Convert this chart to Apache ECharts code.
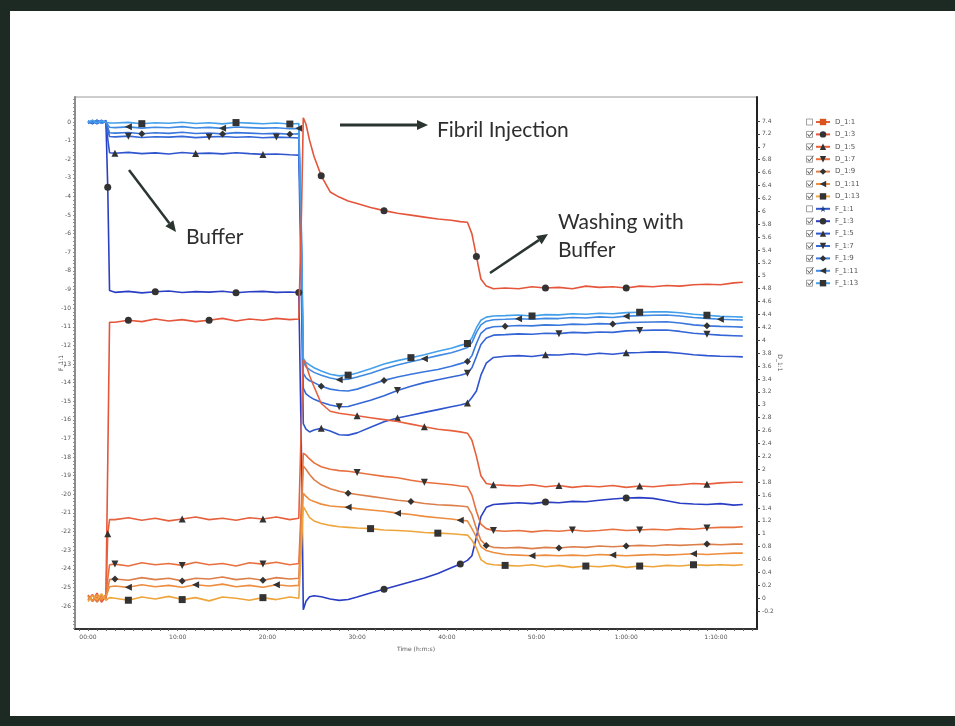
<!DOCTYPE html>
<html>
<head>
<meta charset="utf-8">
<script src="https://cdn.jsdelivr.net/npm/echarts@6/dist/echarts.min.js"></script>
<style>
  html, body { margin: 0; padding: 0; background: #fff; }
  #chart { width: 955px; height: 726px; }
</style>
</head>
<body>
<div id="chart"></div>
<script>
// Sample times in minutes
const minutes = [
  0, 0.5, 1, 1.5, 2.0,
  2.2, 2.4,
  3, 4.5, 6, 7.5, 9, 10.5, 12, 13.5, 15, 16.5, 18, 19.5, 21, 22.5, 23.5,
  23.8, 24.0, 24.3, 24.7, 25.2, 26, 27, 28, 29, 30, 31.5, 33, 34.5, 36, 37.5, 39, 40.5, 41.5, 42.3,
  42.8, 43.3, 43.8, 44.4, 45.2,
  46.5, 48, 49.5, 51, 52.5, 54, 55.5, 57, 58.5, 60, 61.5, 63, 64.5, 66, 67.5, 69, 70.5, 72, 73
];

// Frequency shifts (left axis)
const f3 = [
  0.05, -0.08, 0.1, -0.05, 0.02,
  -3.5, -9.05,
  -9.15, -9.10, -9.18, -9.12, -9.08, -9.16, -9.11, -9.14, -9.09, -9.17, -9.12, -9.10, -9.15, -9.13, -9.16,
  -18, -26.2, -25.75, -25.5, -25.45, -25.5, -25.62, -25.7, -25.65, -25.52, -25.3, -25.1, -24.9, -24.7, -24.5, -24.25, -23.95, -23.75, -23.55,
  -23.3, -22.3, -21.2, -20.7, -20.55,
  -20.5, -20.45, -20.5, -20.42, -20.45, -20.38, -20.4, -20.32, -20.25, -20.2, -20.18, -20.22, -20.35, -20.48, -20.52, -20.55, -20.5, -20.58, -20.55
];
const f5 = [
  -0.05, 0.08, -0.1, 0.04, -0.03,
  -0.9, -1.65,
  -1.68, -1.63, -1.70, -1.66, -1.72, -1.64, -1.69, -1.67, -1.71, -1.65, -1.70, -1.74, -1.72, -1.76, -1.78,
  -9.5, -16.2, -16.5, -16.65, -16.55, -16.45, -16.6, -16.8, -16.82, -16.7, -16.4, -16.1, -15.9, -15.75, -15.6, -15.45, -15.3, -15.2, -15.1,
  -14.8, -14.45, -13.6, -12.95, -12.65,
  -12.58, -12.55, -12.6, -12.5, -12.52, -12.45, -12.5, -12.42, -12.48, -12.4, -12.38, -12.35, -12.36, -12.42, -12.5, -12.55, -12.58, -12.6, -12.62
];
const f7 = [
  0.02, -0.1, 0.06, -0.04, 0.08,
  -0.4, -0.78,
  -0.80, -0.76, -0.83, -0.79, -0.81, -0.77, -0.84, -0.80, -0.78, -0.82, -0.79, -0.85, -0.81, -0.83, -0.86,
  -7.0, -14.3, -14.6, -14.75, -14.9, -15.05, -15.2, -15.3, -15.28, -15.15, -14.95, -14.7, -14.42, -14.2, -14.0, -13.85, -13.7, -13.6, -13.5,
  -13.2, -12.6, -11.95, -11.6, -11.45,
  -11.42, -11.38, -11.4, -11.35, -11.37, -11.3, -11.33, -11.28, -11.3, -11.22, -11.2, -11.18, -11.17, -11.25, -11.35, -11.4, -11.45, -11.48, -11.5
];
const f9 = [
  -0.08, 0.05, -0.02, 0.1, -0.06,
  -0.3, -0.58,
  -0.60, -0.56, -0.63, -0.58, -0.61, -0.55, -0.62, -0.59, -0.64, -0.57, -0.60, -0.63, -0.61, -0.66, -0.63,
  -7.5, -13.5, -13.75, -13.9, -14.0, -14.2, -14.35, -14.42, -14.45, -14.35, -14.12, -13.88, -13.7, -13.55, -13.42, -13.3, -13.12, -12.98, -12.86,
  -12.55, -11.9, -11.35, -11.1, -11.0,
  -10.97, -10.93, -10.95, -10.9, -10.92, -10.86, -10.88, -10.83, -10.85, -10.78, -10.76, -10.74, -10.73, -10.8, -10.9, -10.95, -10.98, -11.0, -11.02
];
const f11 = [
  0.06, -0.04, 0.09, -0.07, 0.03,
  -0.15, -0.28,
  -0.30, -0.26, -0.33, -0.28, -0.31, -0.25, -0.32, -0.29, -0.34, -0.27, -0.30, -0.33, -0.31, -0.36, -0.34,
  -6.5, -12.9, -13.15, -13.3, -13.45, -13.6, -13.75, -13.85, -13.82, -13.7, -13.5, -13.25, -13.05, -12.88, -12.72, -12.55, -12.4, -12.25, -12.12,
  -11.85, -11.3, -10.9, -10.7, -10.62,
  -10.6, -10.57, -10.6, -10.55, -10.56, -10.5, -10.53, -10.47, -10.5, -10.43, -10.4, -10.38, -10.37, -10.42, -10.5, -10.55, -10.6, -10.62, -10.64
];
const f13 = [
  -0.03, 0.1, -0.06, 0.05, -0.01,
  0.0, -0.05,
  -0.05, -0.02, -0.09, -0.04, -0.07, -0.01, -0.08, -0.04, -0.1, -0.03, -0.06, -0.09, -0.05, -0.11, -0.08,
  -6.0, -12.7, -12.92, -13.05, -13.2, -13.38, -13.55, -13.64, -13.6, -13.48, -13.25, -13.0, -12.82, -12.66, -12.5, -12.32, -12.15, -12.0, -11.9,
  -11.6, -11.05, -10.65, -10.48, -10.42,
  -10.4, -10.37, -10.42, -10.35, -10.36, -10.3, -10.33, -10.27, -10.3, -10.24, -10.22, -10.2, -10.2, -10.25, -10.33, -10.38, -10.44, -10.46, -10.48
];

// Dissipation shifts (right axis)
const d3 = [
  0.05, -0.04, 0.08, -0.06, 0.03,
  2.1, 4.28,
  4.28, 4.31, 4.29, 4.33, 4.30, 4.32, 4.29, 4.31, 4.34, 4.30, 4.33, 4.31, 4.34, 4.32, 4.33,
  6.0, 7.45, 7.35, 7.1, 6.85, 6.55, 6.3, 6.22, 6.16, 6.12, 6.06, 6.01, 5.97, 5.94, 5.91, 5.88, 5.86, 5.84, 5.83,
  5.65, 5.3, 4.95, 4.84, 4.8,
  4.81, 4.8, 4.83, 4.81, 4.82, 4.80, 4.84, 4.82, 4.83, 4.81, 4.84, 4.83, 4.85, 4.84, 4.86, 4.87, 4.86, 4.89, 4.9
];
const d5 = [
  -0.03, 0.06, -0.05, 0.04, -0.02,
  1.0, 1.22,
  1.22, 1.25, 1.21, 1.24, 1.20, 1.23, 1.26, 1.22, 1.24, 1.21, 1.25, 1.23, 1.26, 1.22, 1.24,
  2.8, 3.7, 3.62, 3.45, 3.28, 3.02, 2.9, 2.87, 2.85, 2.83, 2.8, 2.77, 2.74, 2.7, 2.66, 2.62, 2.6, 2.58, 2.56,
  2.45, 2.2, 1.9, 1.78, 1.76,
  1.75, 1.74, 1.76, 1.73, 1.75, 1.72, 1.74, 1.73, 1.75, 1.72, 1.74, 1.73, 1.75, 1.76, 1.78, 1.77, 1.79, 1.8, 1.8
];
const d7 = [
  0.04, -0.05, 0.02, -0.03, 0.06,
  0.3, 0.52,
  0.53, 0.50, 0.55, 0.52, 0.54, 0.51, 0.56, 0.52, 0.54, 0.50, 0.55, 0.53, 0.56, 0.52, 0.54,
  1.5, 2.25, 2.22, 2.16, 2.1, 2.04, 2.0, 1.98, 1.97, 1.95, 1.92, 1.89, 1.87, 1.83, 1.8, 1.78, 1.76, 1.74, 1.73,
  1.6, 1.35, 1.15, 1.08, 1.05,
  1.04, 1.05, 1.03, 1.05, 1.04, 1.06, 1.04, 1.05, 1.07, 1.05, 1.06, 1.07, 1.06, 1.08, 1.07, 1.09, 1.1, 1.1, 1.11
];
const d9 = [
  -0.02, 0.05, -0.06, 0.03, -0.01,
  0.15, 0.29,
  0.30, 0.28, 0.32, 0.29, 0.31, 0.27, 0.31, 0.30, 0.33, 0.29, 0.31, 0.28, 0.32, 0.30, 0.31,
  1.3, 2.05, 2.0, 1.92, 1.84, 1.76, 1.7, 1.66, 1.63, 1.61, 1.58, 1.55, 1.52, 1.5, 1.47, 1.45, 1.44, 1.43, 1.42,
  1.3, 1.08, 0.9, 0.82, 0.79,
  0.78, 0.79, 0.77, 0.79, 0.78, 0.80, 0.79, 0.81, 0.80, 0.81, 0.82, 0.81, 0.83, 0.82, 0.83, 0.84, 0.83, 0.84, 0.84
];
const d11 = [
  0.03, -0.04, 0.06, -0.02, 0.04,
  0.1, 0.18,
  0.19, 0.17, 0.21, 0.18, 0.20, 0.17, 0.21, 0.19, 0.22, 0.18, 0.20, 0.17, 0.21, 0.19, 0.20,
  1.0, 1.63, 1.58, 1.53, 1.5, 1.46, 1.43, 1.42, 1.41, 1.39, 1.37, 1.35, 1.32, 1.3, 1.27, 1.25, 1.23, 1.21, 1.2,
  1.08, 0.95, 0.8, 0.74, 0.71,
  0.68, 0.67, 0.66, 0.67, 0.66, 0.67, 0.66, 0.68, 0.67, 0.66, 0.67, 0.68, 0.67, 0.68, 0.69, 0.68, 0.69, 0.70, 0.70
];
const d13 = [
  -0.05, 0.04, -0.02, 0.07, -0.03,
  0.0, 0.01,
  0.0, -0.03, 0.02, -0.01, 0.03, -0.02, 0.01, -0.04, 0.02, 0.0, -0.03, 0.01, -0.02, 0.02, 0.0,
  0.8, 1.42, 1.35, 1.25, 1.2, 1.16, 1.13, 1.11, 1.1, 1.09, 1.08, 1.06, 1.05, 1.04, 1.02, 1.01, 1.0, 0.99, 0.98,
  0.9, 0.78, 0.6, 0.54, 0.52,
  0.51, 0.5, 0.52, 0.49, 0.51, 0.48, 0.5, 0.49, 0.51, 0.48, 0.5, 0.49, 0.51, 0.5, 0.52, 0.51, 0.52, 0.51, 0.52
];

// Axis tick labels
const fTicks = [0, -1, -2, -3, -4, -5, -6, -7, -8, -9, -10, -11, -12, -13, -14, -15, -16, -17, -18, -19, -20, -21, -22, -23, -24, -25, -26];
const dTicks = [7.4, 7.2, 7, 6.8, 6.6, 6.4, 6.2, 6, 5.8, 5.6, 5.4, 5.2, 5, 4.8, 4.6, 4.4, 4.2, 4, 3.8, 3.6, 3.4, 3.2, 3, 2.8, 2.6, 2.4, 2.2, 2, 1.8, 1.6, 1.4, 1.2, 1, 0.8, 0.6, 0.4, 0.2, 0, -0.2];
const timeTicks = [0, 10, 20, 30, 40, 50, 60, 70];
const timeLabels = ['00:00', '10:00', '20:00', '30:00', '40:00', '50:00', '1:00:00', '1:10:00'];

const STAR = 'path://M50,0 L61,35 L98,35 L68,57 L79,91 L50,70 L21,91 L32,57 L2,35 L39,35 Z';

// Series appearance (legend order)
const traces = [
  { name: 'D_1:1',  values: null, axis: 1, color: '#e2613a', mark: '#d9531e', symbol: 'rect', rot: 0, at: [] },
  { name: 'D_1:3',  values: d3,  axis: 1, color: '#e4553a', symbol: 'circle',   rot: 0,   at: [8, 14, 27, 33, 42, 49, 55] },
  { name: 'D_1:5',  values: d5,  axis: 1, color: '#e6603c', symbol: 'triangle', rot: 0,   at: [5, 12, 18, 31, 36, 45, 50, 56, 61] },
  { name: 'D_1:7',  values: d7,  axis: 1, color: '#e8703f', symbol: 'triangle', rot: 180, at: [7, 12, 18, 31, 36, 45, 51, 56, 61] },
  { name: 'D_1:9',  values: d9,  axis: 1, color: '#dc7f4a', symbol: 'diamond',  rot: 0,   at: [7, 12, 18, 30, 35, 44, 50, 55, 61] },
  { name: 'D_1:11', values: d11, axis: 1, color: '#ec8d40', symbol: 'triangle', rot: 90,  at: [8, 13, 19, 30, 34, 39, 48, 54, 60] },
  { name: 'D_1:13', values: d13, axis: 1, color: '#eea53c', symbol: 'rect',     rot: 0,   at: [8, 12, 18, 32, 37, 46, 52, 56, 60] },
  { name: 'F_1:1',  values: null, axis: 0, color: '#2e58c8', mark: '#1e3c8c', symbol: STAR, rot: 0, at: [] },
  { name: 'F_1:3',  values: f3,  axis: 0, color: '#2a3ec4', symbol: 'circle',   rot: 0,   at: [5, 10, 16, 21, 33, 39, 49, 55] },
  { name: 'F_1:5',  values: f5,  axis: 0, color: '#2f55cf', symbol: 'triangle', rot: 0,   at: [7, 13, 18, 27, 34, 40, 49, 55] },
  { name: 'F_1:7',  values: f7,  axis: 0, color: '#3466d6', symbol: 'triangle', rot: 180, at: [8, 14, 19, 29, 34, 40, 50, 56, 61] },
  { name: 'F_1:9',  values: f9,  axis: 0, color: '#3a77dc', symbol: 'diamond',  rot: 0,   at: [9, 15, 20, 27, 33, 40, 46, 54, 61] },
  { name: 'F_1:11', values: f11, axis: 0, color: '#3f8ae2', symbol: 'triangle', rot: 90,  at: [8, 15, 21, 29, 36, 47, 55, 62] },
  { name: 'F_1:13', values: f13, axis: 0, color: '#44a0ea', symbol: 'rect',     rot: 0,   at: [9, 16, 20, 30, 35, 40, 48, 56, 61] }
];

// Minor tick positions along the axes
const fMinor = [];
for (let k = -136; k <= 6; k++) fMinor.push(Math.round(k * 2) / 10);
const xMinor = [];
for (let m = -1; m <= 74; m++) xMinor.push(m);

const series = traces.map(tr => ({
  name: tr.name,
  type: 'line',
  yAxisIndex: tr.axis,
  data: tr.values ? minutes.map((t, i) => [t, tr.values[i]]) : [],
  symbol: tr.symbol,
  symbolRotate: tr.rot,
  showSymbol: true,
  showAllSymbol: true,
  symbolSize: (v, p) => tr.at.indexOf(p.dataIndex) >= 0 ? 7 : 0,
  lineStyle: { color: tr.color, width: 1.6 },
  itemStyle: { color: tr.mark || '#333', borderWidth: 0 },
  emphasis: { disabled: true },
  animation: false,
  z: tr.axis === 1 ? 3 : 2
}));

// Legend check boxes
const legendTop = 118, rowStep = 12.4;
const boxes = traces.map((tr, i) => {
  const cy = legendTop + 4 + i * rowStep;
  const parts = [{
    type: 'rect', shape: { x: 806.5, y: cy - 3, width: 6, height: 6 },
    style: { fill: '#fff', stroke: '#8a8a8a', lineWidth: 0.8 }
  }];
  if (tr.values) {
    parts.push({
      type: 'polyline', shape: { points: [[807.5, cy - 0.5], [809.3, cy + 2], [813.5, cy - 3.5]] },
      style: { stroke: '#555', lineWidth: 1, fill: null }
    });
  }
  return { type: 'group', children: parts };
});

function arrow(x1, y1, x2, y2, w) {
  const a = Math.atan2(y2 - y1, x2 - x1);
  const L = 11, H = 5;
  const bx = x2 - L * Math.cos(a), by = y2 - L * Math.sin(a);
  return {
    type: 'group',
    children: [
      { type: 'line', shape: { x1: x1, y1: y1, x2: bx, y2: by }, style: { stroke: '#2b3530', lineWidth: w } },
      { type: 'polygon', shape: { points: [[x2, y2], [bx + H * Math.sin(a), by - H * Math.cos(a)], [bx - H * Math.sin(a), by + H * Math.cos(a)]] },
        style: { fill: '#2b3530' } }
    ]
  };
}

function note(text, x, y) {
  return { type: 'text', x: x, y: y,
    style: { text: text, fill: '#2e2e2e', fontSize: 21, fontFamily: 'Lato, "Open Sans", sans-serif', verticalAlign: 'middle', align: 'left' } };
}

const chart = echarts.init(document.getElementById('chart'), null, { renderer: 'canvas' });
chart.setOption({
  backgroundColor: '#fff',
  animation: false,
  grid: { left: 75, right: 198, top: 97, bottom: 97, show: true, borderColor: '#9a9a9a', borderWidth: 1, backgroundColor: '#fff' },
  xAxis: {
    type: 'value', min: -1.45, max: 74.58,
    name: 'Time (h:m:s)', nameLocation: 'middle', nameGap: 17, nameMoveOverlap: false,
    nameTextStyle: { fontSize: 6, color: '#555', fontFamily: 'DejaVu Sans' },
    axisLine: { onZero: false, lineStyle: { color: '#333', width: 2 } },
    axisTick: { customValues: xMinor, length: 2, lineStyle: { color: '#666' } },
    axisLabel: { customValues: timeTicks, formatter: v => timeLabels[timeTicks.indexOf(v)], fontSize: 6, color: '#555', margin: 5, fontFamily: 'DejaVu Sans' },
    splitLine: { show: false }
  },
  yAxis: [
    {
      type: 'value', position: 'left', min: -27.236, max: 1.343,
      name: 'F_1:1', nameLocation: 'middle', nameGap: 11, nameRotate: 90, nameMoveOverlap: false,
      nameTextStyle: { fontSize: 6, color: '#555', fontFamily: 'DejaVu Sans' },
      axisLine: { show: true, onZero: false, lineStyle: { color: '#8a8a8a', width: 2, type: [2, 1] } },
      axisTick: { customValues: fMinor, length: 2, lineStyle: { color: '#8a8a8a' } },
      axisLabel: { customValues: fTicks, fontSize: 6, color: '#555', margin: 4, fontFamily: 'DejaVu Sans' },
      splitLine: { show: false }
    },
    {
      type: 'value', position: 'right', min: -0.476, max: 7.772,
      name: 'D_1:1', nameLocation: 'middle', nameGap: 20, nameRotate: -90, nameMoveOverlap: false,
      nameTextStyle: { fontSize: 6, color: '#555', fontFamily: 'DejaVu Sans' },
      axisLine: { show: true, onZero: false, lineStyle: { color: '#222', width: 2 } },
      axisTick: { customValues: dTicks, length: 3, lineStyle: { color: '#444' } },
      axisLabel: { customValues: dTicks, fontSize: 6, color: '#555', margin: 5, fontFamily: 'DejaVu Sans' },
      splitLine: { show: false }
    }
  ],
  legend: {
    orient: 'vertical', left: 815, top: legendTop, padding: 0,
    itemWidth: 14, itemHeight: 8, itemGap: 4.4,
    selectedMode: false,
    textStyle: { fontSize: 7, lineHeight: 8, color: '#555', fontFamily: 'DejaVu Sans' },
    data: traces.map(t => t.name)
  },
  series: series,
  graphic: [
    { type: 'rect', shape: { x: 0, y: 0, width: 955, height: 11 }, style: { fill: '#1d2a23' }, z: 100 },
    { type: 'rect', shape: { x: 0, y: 0, width: 10, height: 726 }, style: { fill: '#1d2a23' }, z: 100 },
    { type: 'rect', shape: { x: 0, y: 716, width: 955, height: 10 }, style: { fill: '#1d2a23' }, z: 100 },
    ...boxes,
    arrow(129, 170, 176, 232, 2.5),
    note('Buffer', 186, 237),
    arrow(340, 125, 428, 125, 3),
    note('Fibril Injection', 437, 130),
    arrow(490, 273, 548, 234, 2.5),
    note('Washing with', 558, 222),
    note('Buffer', 558, 250)
  ]
});
</script>
</body>
</html>
